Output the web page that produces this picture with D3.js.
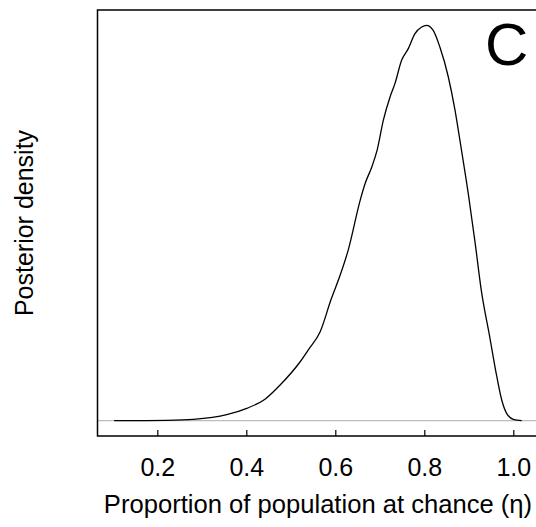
<!DOCTYPE html>
<html>
<head>
<meta charset="utf-8">
<script src="https://cdn.jsdelivr.net/npm/d3@7"></script>
<style>
  html, body { margin: 0; padding: 0; background: #fff; }
  svg { display: block; }
  text { font-family: "Liberation Sans", Arial, sans-serif; fill: #000; }
</style>
</head>
<body>
<div id="chart"></div>
<script>
// Data: posterior density of eta (proportion of population at chance)
const eta = [0.103, 0.161, 0.221, 0.281, 0.356, 0.401, 0.442, 0.476, 0.521, 0.539, 0.566, 0.591,
             0.611, 0.629, 0.656, 0.667, 0.682, 0.694, 0.708, 0.723, 0.734, 0.749, 0.764, 0.779,
             0.794, 0.805, 0.820, 0.835, 0.854, 0.869, 0.880, 0.899, 0.914, 0.928, 0.947, 0.963,
             0.974, 0.985, 1.000, 1.019];
const density = [0.000, 0.001, 0.003, 0.011, 0.048, 0.099, 0.172, 0.286, 0.472, 0.566, 0.712, 0.976,
                 1.166, 1.366, 1.766, 1.899, 2.032, 2.166, 2.406, 2.592, 2.699, 2.886, 2.979, 3.099,
                 3.152, 3.166, 3.126, 2.992, 2.752, 2.486, 2.246, 1.814, 1.430, 1.046, 0.672, 0.352,
                 0.166, 0.059, 0.011, 0.000];
const xTicks = [0.2, 0.4, 0.6, 0.8, 1.0];
const xTickLabels = ["0.2", "0.4", "0.6", "0.8", "1.0"];
const xTitle = "Proportion of population at chance (\u03b7)";
const yTitle = "Posterior density";
const panelLabel = "C";

const W = 536, H = 527;
const frame = { left: 97.5, top: 10, bottom: 436, right: 540 };

const svg = d3.select("#chart").append("svg").attr("width", W).attr("height", H);

const x = d3.scaleLinear().domain([0, 1]).range([68.3, 513.3]);
const y = d3.scaleLinear().domain([0, 3.166]).range([420.7, 25.3]);

// baseline at zero density
svg.append("line")
  .attr("x1", frame.left).attr("x2", W)
  .attr("y1", y(0)).attr("y2", y(0))
  .attr("stroke", "#bdbdbd").attr("stroke-width", 1.2);

// density curve
const line = d3.line().x((d, i) => x(eta[i])).y(d => y(d)).curve(d3.curveMonotoneX);
svg.append("path")
  .datum(density)
  .attr("d", line)
  .attr("fill", "none")
  .attr("stroke", "#000")
  .attr("stroke-width", 1.3);

// frame (left, top, bottom)
svg.append("path")
  .attr("d", `M${frame.right},${frame.top}H${frame.left}V${frame.bottom}H${frame.right}`)
  .attr("fill", "none").attr("stroke", "#000").attr("stroke-width", 1.5);

// x axis ticks (inward)
const axis = d3.axisBottom(x).tickValues(xTicks)
  .tickFormat((d, i) => xTickLabels[i])
  .tickSizeInner(-6).tickSizeOuter(0).tickPadding(0);
const gx = svg.append("g").attr("transform", `translate(0,${frame.bottom})`).call(axis);
gx.select(".domain").remove();
gx.selectAll(".tick line").attr("stroke", "#000").attr("stroke-width", 1.2);
gx.selectAll(".tick text")
  .attr("y", 40).attr("dy", null)
  .style("font-family", "'Liberation Sans', Arial, sans-serif")
  .style("font-size", "25px").attr("fill", "#000");

// axis titles
svg.append("text")
  .attr("x", 318).attr("y", 513)
  .attr("text-anchor", "middle")
  .style("font-size", "25.6px")
  .text(xTitle);

svg.append("text")
  .attr("transform", `translate(32.5,${(frame.top + frame.bottom) / 2}) rotate(-90)`)
  .attr("text-anchor", "middle")
  .style("font-size", "25px")
  .text(yTitle);

// panel label
svg.append("text")
  .attr("x", 485).attr("y", 65)
  .style("font-size", "60px")
  .text(panelLabel);
</script>
</body>
</html>
